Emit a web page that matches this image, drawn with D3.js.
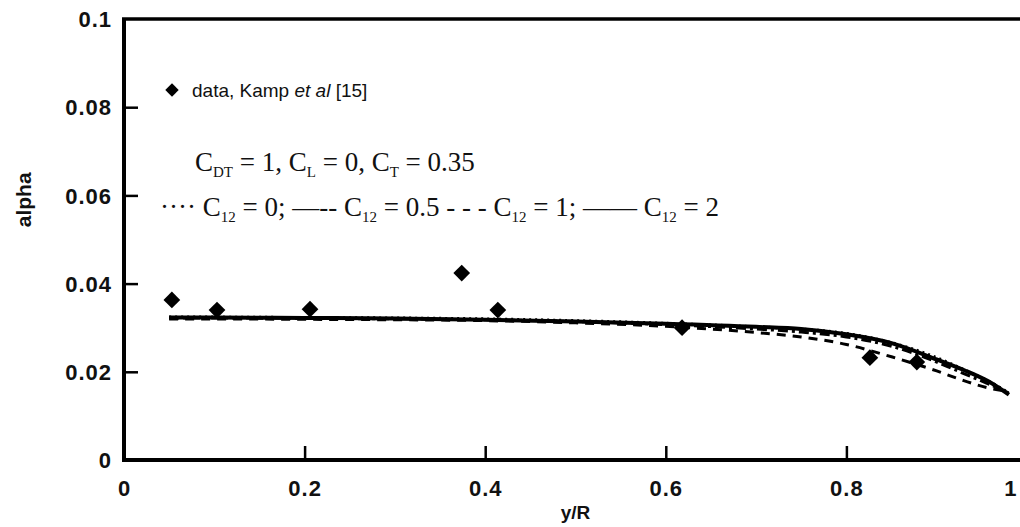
<!DOCTYPE html>
<html>
<head>
<meta charset="utf-8">
<script src="https://cdn.jsdelivr.net/npm/d3@7"></script>
<style>
  body { margin: 0; background: #fff; }
  svg { display: block; background: #fff; }
  .tick text { font-family: "Liberation Sans", Arial, sans-serif; font-weight: bold; font-size: 22px; fill: #111; }
  .serif { font-family: "Liberation Serif", "Times New Roman", serif; fill: #111; }
  .sans { font-family: "Liberation Sans", Arial, sans-serif; fill: #111; }
</style>
</head>
<body>
<svg width="1020" height="527"></svg>
<script>

// measured data points (Kamp et al)
var dataX = [0.053, 0.103, 0.206, 0.374, 0.414, 0.618, 0.826, 0.878];
var dataY = [0.0363, 0.0340, 0.0342, 0.0424, 0.0340, 0.0300, 0.0232, 0.0222];

// model curves, one array per C12 value
var curveX   = [0.05, 0.1, 0.2, 0.3, 0.4, 0.5, 0.6, 0.7, 0.75, 0.8, 0.85, 0.9, 0.93, 0.96, 0.98];
var c12_0    = [0.0324, 0.0324, 0.0323, 0.0322, 0.0320, 0.0316, 0.0310, 0.0302, 0.0297, 0.0287, 0.0266, 0.0232, 0.0205, 0.0176, 0.0152];
var c12_05   = [0.0322, 0.0322, 0.0321, 0.0320, 0.0318, 0.0314, 0.0307, 0.0297, 0.0290, 0.0279, 0.0258, 0.0222, 0.0196, 0.0170, 0.0152];
var c12_1    = [0.0320, 0.0320, 0.0319, 0.0318, 0.0316, 0.0311, 0.0303, 0.0289, 0.0279, 0.0262, 0.0234, 0.0202, 0.0180, 0.0162, 0.0156];
var c12_2    = [0.0323, 0.0323, 0.0322, 0.0321, 0.0318, 0.0314, 0.0309, 0.0302, 0.0297, 0.0285, 0.0265, 0.0228, 0.0204, 0.0175, 0.0148];

var xTicks = [0, 0.2, 0.4, 0.6, 0.8, 1];
var yTicks = [0, 0.02, 0.04, 0.06, 0.08, 0.1];

function drawGraphic() {

  var svg = d3.select("svg"),
    margin = {top: 19, left: 124, bottom: 67};

  var width = 903, height = 527 - margin.top - margin.bottom;

  var x = d3.scaleLinear().domain([0, 1]).range([0, width]);
  var y = d3.scaleLinear().domain([0, 0.1]).range([height, 0]);

  var g = svg.append("g")
    .attr("transform", "translate(" + margin.left + "," + margin.top + ")");

  // frame
  g.append("line").attr("x1", 0).attr("x2", 0).attr("y1", -1).attr("y2", height + 2)
    .attr("stroke", "#000").attr("stroke-width", 4);
  g.append("line").attr("x1", -2).attr("x2", width).attr("y1", height).attr("y2", height)
    .attr("stroke", "#000").attr("stroke-width", 4);
  g.append("line").attr("x1", -2).attr("x2", width).attr("y1", 0).attr("y2", 0)
    .attr("stroke", "#000").attr("stroke-width", 3.5);

  // axes, ticks pointing inward
  var yAxis = g.append("g")
    .call(d3.axisRight(y).tickValues(yTicks).tickSize(14).tickFormat(function(d){ return d === 0 ? "0" : d3.format("")(+d.toFixed(2)); }));
  yAxis.select(".domain").remove();
  yAxis.selectAll(".tick line").attr("stroke", "#000").attr("stroke-width", 2.5);
  yAxis.selectAll(".tick text").attr("x", -12).attr("text-anchor", "end").attr("dy", "0.35em").attr("letter-spacing", 1);
  yAxis.selectAll(".tick").filter(function(d){ return d === 0.1 || d === 0; }).select("line").remove();

  var xAxis = g.append("g")
    .attr("transform", "translate(0," + height + ")")
    .call(d3.axisTop(x).tickValues(xTicks).tickSize(14).tickFormat(function(d){ return d === 0 ? "0" : d === 1 ? "1" : d3.format(".1f")(d); }));
  xAxis.select(".domain").remove();
  xAxis.selectAll(".tick line").attr("stroke", "#000").attr("stroke-width", 2.5);
  xAxis.selectAll(".tick text").attr("y", 36).attr("dy", "0").attr("letter-spacing", 1);
  xAxis.selectAll(".tick").filter(function(d){ return d === 0 || d === 1; }).select("line").remove();
  // the "1" sits right at the page edge in the original; pull it just inside
  xAxis.selectAll(".tick").filter(function(d){ return d === 1; }).select("text")
    .attr("text-anchor", "end").attr("letter-spacing", 0).attr("x", -11);

  // axis titles
  g.append("text").attr("class", "sans")
    .attr("transform", "translate(" + (-93) + "," + (height * 0.41) + ") rotate(-90)")
    .attr("text-anchor", "middle").attr("font-size", 21).attr("font-weight", "bold")
    .text("alpha");
  g.append("text").attr("class", "sans")
    .attr("x", x(0.5)).attr("y", height + 59)
    .attr("text-anchor", "middle").attr("font-size", 19).attr("font-weight", "bold")
    .text("y/R");

  // curves
  var line = d3.line()
    .x(function(d) { return x(d[0]); })
    .y(function(d) { return y(d[1]); })
    .curve(d3.curveMonotoneX);

  var series = [
    {vals: c12_0, dash: "2,4", w: 3},
    {vals: c12_05, dash: "10,4,3,4", w: 3},
    {vals: c12_1, dash: "9,7", w: 3},
    {vals: c12_2, dash: null, w: 4}
  ];

  series.forEach(function(s) {
    g.append("path")
      .datum(curveX.map(function(v, i) { return [v, s.vals[i]]; }))
      .attr("d", line)
      .attr("fill", "none")
      .attr("stroke", "#000")
      .attr("stroke-width", s.w)
      .attr("stroke-dasharray", s.dash);
  });

  // data diamonds (rotated squares)
  var diamond = d3.symbol().type(d3.symbolSquare).size(140);
  g.selectAll(".pt").data(dataX.map(function(v, i) { return [v, dataY[i]]; }))
    .enter().append("path")
    .attr("class", "pt")
    .attr("d", diamond)
    .attr("transform", function(d) { return "translate(" + x(d[0]) + "," + y(d[1]) + ") rotate(45)"; })
    .attr("fill", "#000");

  // legend block
  svg.append("path").attr("d", d3.symbol().type(d3.symbolSquare).size(90))
    .attr("transform", "translate(172,90) rotate(45)").attr("fill", "#000");
  var t1 = svg.append("text").attr("class", "sans").attr("x", 192).attr("y", 97).attr("font-size", 19);
  t1.append("tspan").text("data, Kamp ");
  t1.append("tspan").attr("font-style", "italic").text("et al");
  t1.append("tspan").text(" [15]");

  var t2 = svg.append("text").attr("class", "serif").attr("x", 195).attr("y", 171).attr("font-size", 27);
  t2.append("tspan").text("C");
  t2.append("tspan").attr("font-size", 15).attr("dy", 6).text("DT");
  t2.append("tspan").attr("dy", -6).text(" = 1, C");
  t2.append("tspan").attr("font-size", 15).attr("dy", 6).text("L");
  t2.append("tspan").attr("dy", -6).text(" = 0, C");
  t2.append("tspan").attr("font-size", 15).attr("dy", 6).text("T");
  t2.append("tspan").attr("dy", -6).text(" = 0.35");

  var t3 = svg.append("text").attr("class", "serif").attr("x", 160).attr("y", 216).attr("font-size", 27);
  var parts = [["\u00b7\u00b7\u00b7\u00b7  C", "12", " = 0; "], ["\u2014-- C", "12", " = 0.5 - - - "], ["C", "12", " = 1; "], ["\u2014\u2014 C", "12", " = 2"]];
  parts.forEach(function(p) {
    t3.append("tspan").text(p[0]);
    t3.append("tspan").attr("font-size", 15).attr("dy", 6).text(p[1]);
    t3.append("tspan").attr("dy", -6).text(p[2]);
  });
}

drawGraphic();
</script>
</body>
</html>
